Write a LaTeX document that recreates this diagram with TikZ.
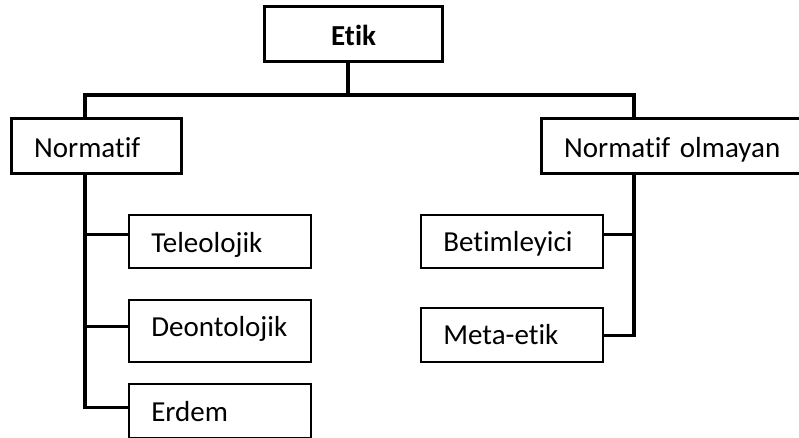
\documentclass[tikz,border=0pt]{standalone}
\usepackage{fontspec}
\setmainfont{Carlito}[Ligatures=NoCommon]
\begin{document}
\begin{tikzpicture}[x=1pt,y=-1pt]
\tikzset{
  boxbase/.style={draw, rectangle, inner sep=0pt, anchor=north west,
    font=\fontsize{29}{35}\selectfont, align=left, text height=30pt},
  heavybox/.style={boxbase, line width=3.3pt},
  lightbox/.style={boxbase, line width=1.6pt},
  conn/.style={line width=3.3pt, line cap=rect},
}
\useasboundingbox (0,0) rectangle (799,438);
\clip (0,0) rectangle (799,438);

\node[heavybox, minimum width=178pt, minimum height=55pt, text width=178pt, align=center, text depth=7pt, font=\fontsize{29}{35}\selectfont\bfseries] (etik) at (263,5) {Etik};
\node[heavybox, minimum width=170pt, minimum height=55pt, text width=125pt, text depth=8pt] (norm) at (10,117) {Normatif};
\node[heavybox, minimum width=270pt, minimum height=55pt, text width=225pt, text depth=8pt] (normolm) at (540,117) {Normatif olmayan};

\node[lightbox, minimum width=182pt, minimum height=53pt, text width=137pt, text depth=8pt] (tel) at (128,214) {Teleolojik};
\node[lightbox, minimum width=182pt, minimum height=62pt, text width=137pt, text depth=18pt] (deon) at (128,299) {Deontolojik};
\node[lightbox, minimum width=182pt, minimum height=54pt, text width=137pt, text depth=9pt] (erdem) at (128,383) {Erdem};
\node[lightbox, minimum width=182pt, minimum height=53pt, text width=137pt, text depth=10pt] (betim) at (420,214) {Betimleyici};
\node[lightbox, minimum width=182pt, minimum height=54pt, text width=137pt, text depth=11pt] (meta) at (420,307) {Meta-etik};

\coordinate (bar) at (348,95);
\coordinate (lx) at (85,0);
\coordinate (rx) at (634,0);
\coordinate (telc) at ([yshift=7pt]tel.west);
\coordinate (deonc) at ([yshift=4pt]deon.west);
\coordinate (erdemc) at ([yshift=3pt]erdem.west);
\coordinate (betimc) at ([yshift=7pt]betim.east);
\coordinate (metac) at ([yshift=-1pt]meta.east);

\draw[conn] (bar |- etik.south) -- (bar);
\draw[conn] (lx |- norm.north) |- (rx |- bar) -- (rx |- normolm.north);

\draw[conn] (lx |- norm.south) |- (erdemc);
\draw[conn] (lx |- telc) -- (telc);
\draw[conn] (lx |- deonc) -- (deonc);

\draw[conn] (rx |- normolm.south) |- (metac);
\draw[conn] (rx |- betimc) -- (betimc);
\end{tikzpicture}
\end{document}
